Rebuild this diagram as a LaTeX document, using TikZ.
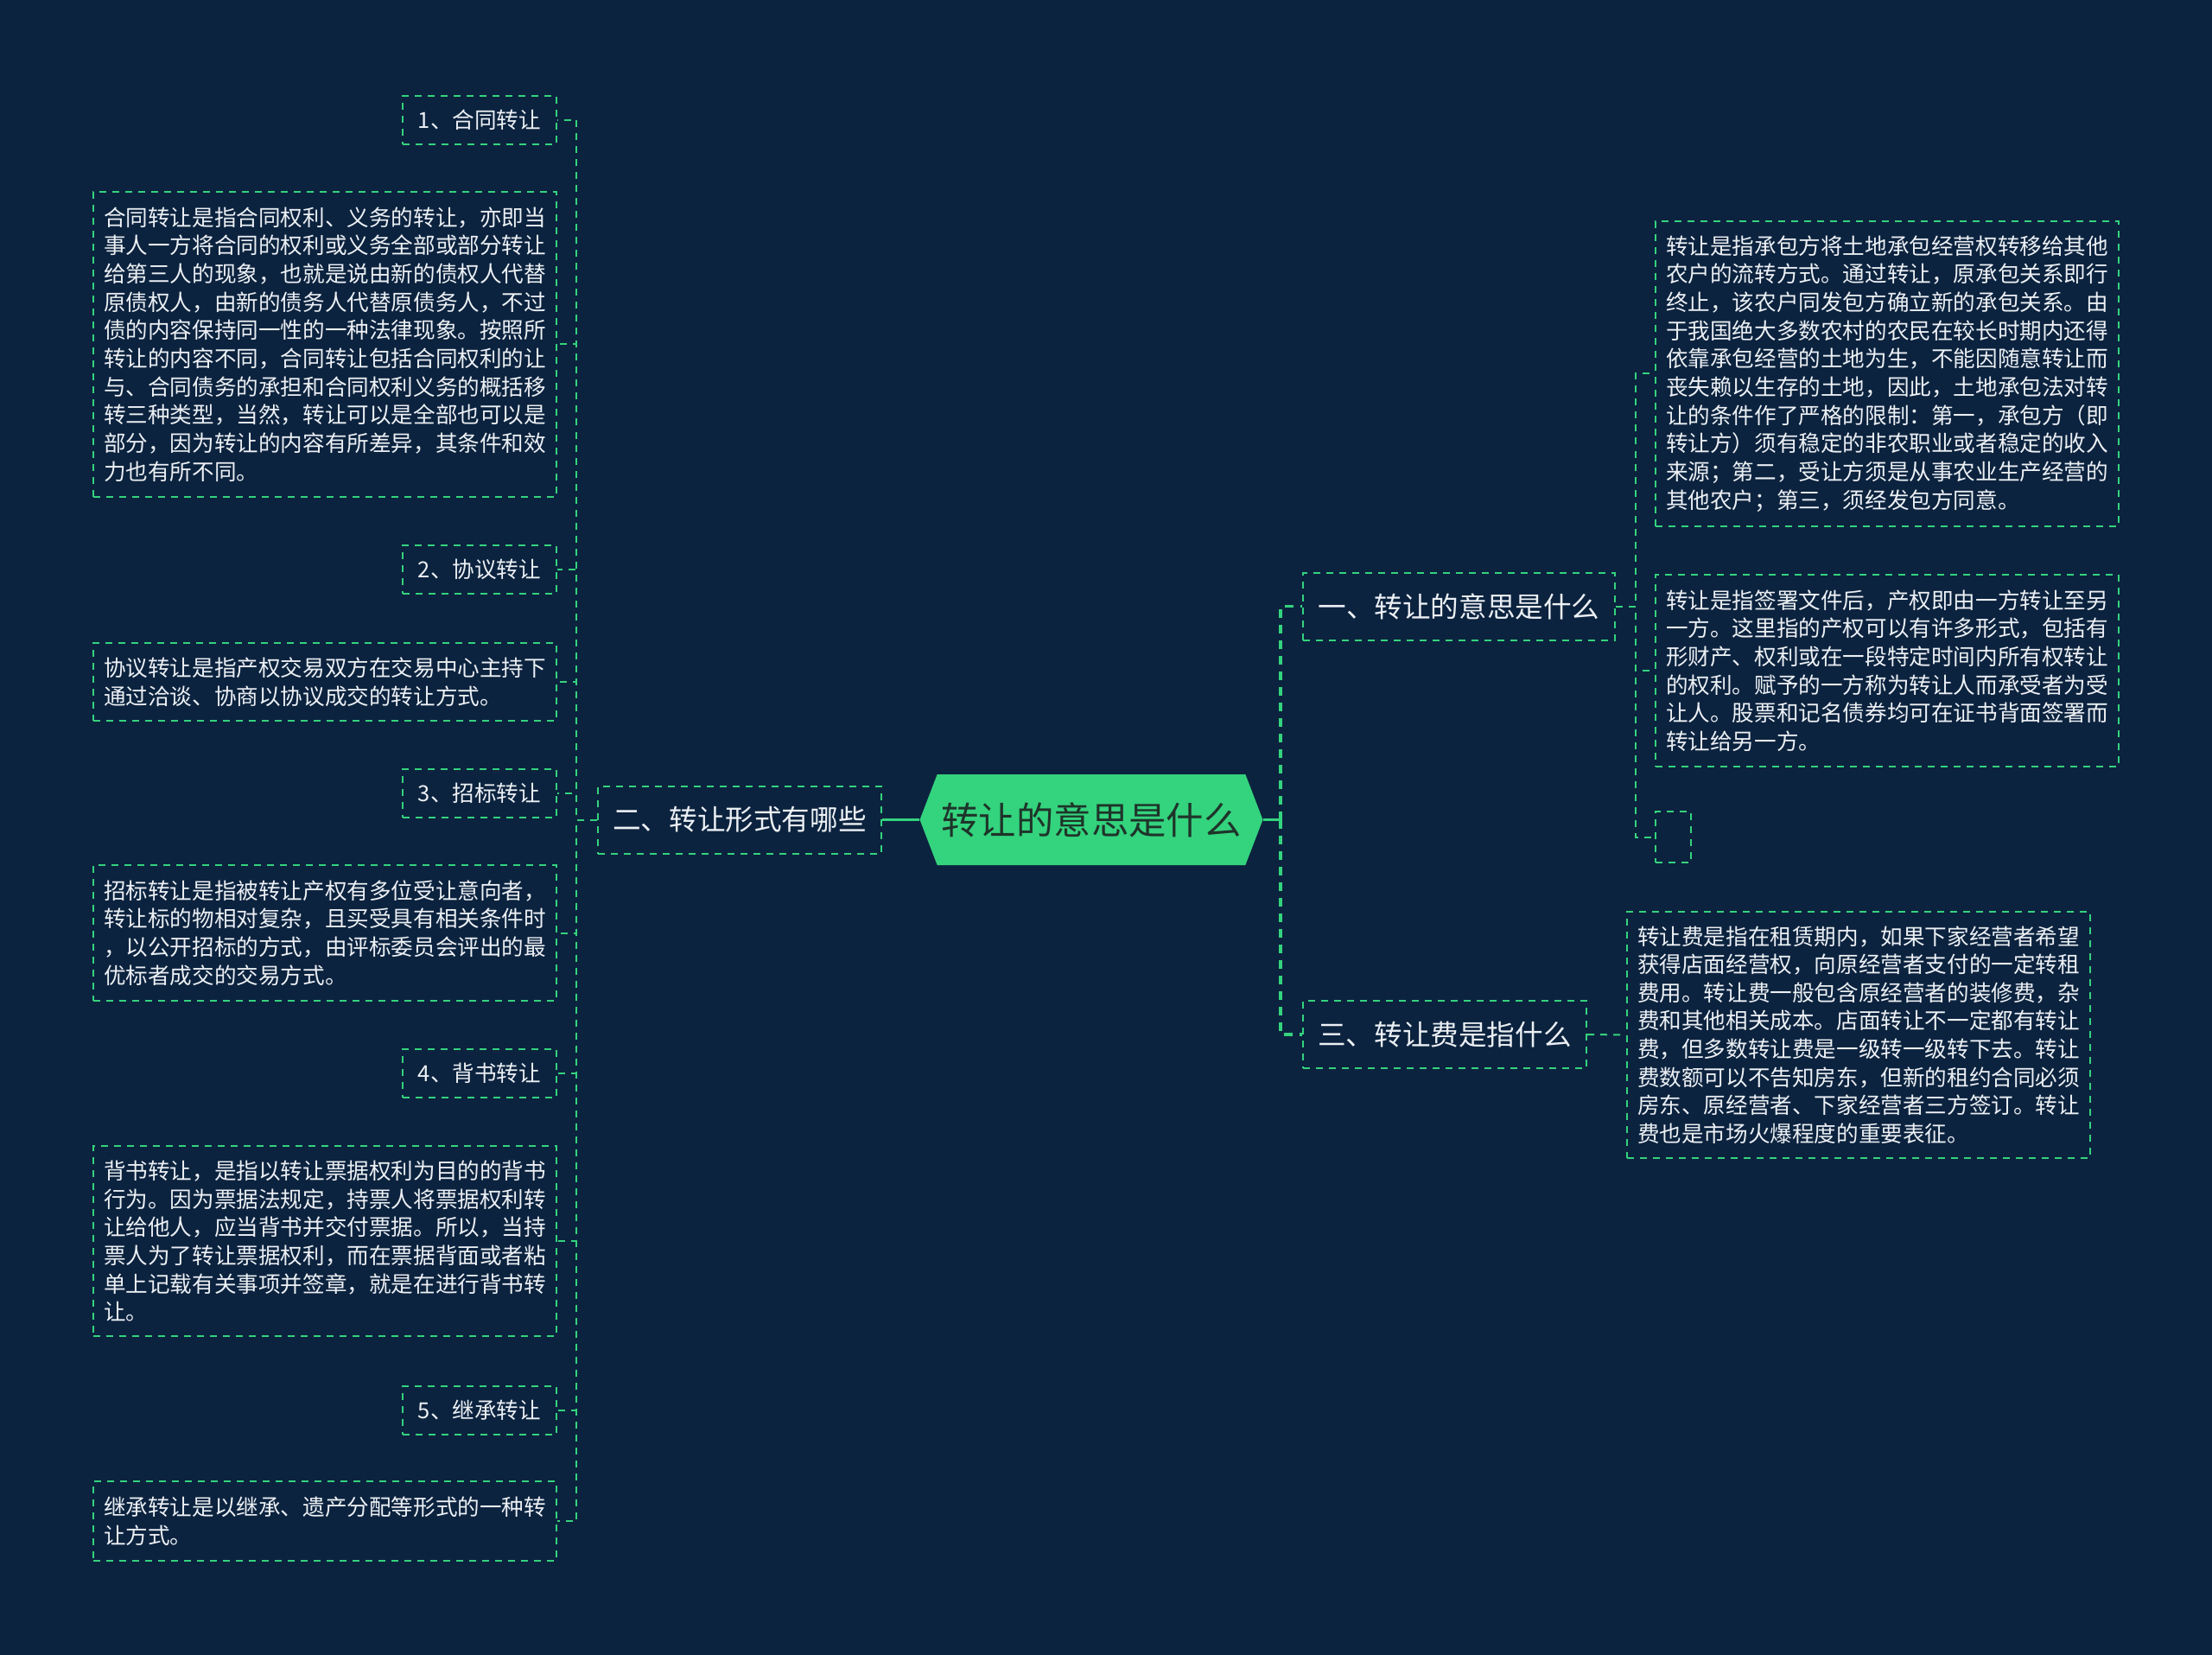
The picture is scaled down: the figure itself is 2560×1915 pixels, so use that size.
\documentclass[tikz,border=0pt]{standalone}
\usepackage{fontspec}
\setmainfont{Noto Sans CJK SC}
\usepackage{tikz}
\usetikzlibrary{shapes.symbols}
\definecolor{bgnavy}{RGB}{12,35,63}
\definecolor{mmgreen}{RGB}{52,211,125}
\definecolor{rootink}{RGB}{30,52,42}
\definecolor{paper}{RGB}{236,240,244}
\newcommand{\mmroot}{\fontsize{21.7}{26}\selectfont}
\newcommand{\mmtopic}{\fontsize{16.3}{20}\selectfont}
\newcommand{\mmnote}{\fontsize{12.8}{16.33}\selectfont}
\tikzstyle{root} = [signal, signal to=west and east, signal pointer angle=138, minimum width=198.5pt, minimum height=52.5pt, inner sep=0pt, fill=mmgreen, text=rootink, font=\mmroot]
\tikzstyle{topic} = [rectangle, draw=mmgreen, line width=1pt, dash pattern=on 4pt off 3.5pt, minimum height=39pt, text=paper, font=\mmtopic]
\tikzstyle{itembox} = [rectangle, draw=mmgreen, line width=1pt, dash pattern=on 4pt off 3.5pt, minimum width=89pt, minimum height=28pt, text=paper, font=\mmnote]
\tikzstyle{textbox} = [rectangle, draw=mmgreen, line width=1pt, dash pattern=on 4pt off 3.5pt, text width=256pt, inner xsep=6pt, align=left, text=paper, font=\mmnote]
\tikzstyle{link} = [mmgreen, line width=1pt, dash pattern=on 4pt off 3.5pt]
\tikzstyle{hublink} = [mmgreen, line width=1.6pt, dash pattern=on 5pt off 4pt]
\tikzstyle{solidlink} = [mmgreen, line width=1.6pt]

\begin{document}
\begin{tikzpicture}[x=0.5pt, y=-0.5pt]
            \fill [bgnavy] (0,0) rectangle (2560,1915);
            \useasboundingbox (0,0) rectangle (2560,1915);

            \node [root] at (1263,948.5) (root) {转让的意思是什么};
            \node [topic, minimum width=164pt] at (856,948.5) (two) {二、转让形式有哪些};
            \node [topic, minimum width=180.5pt, anchor=west] at (1507,701.5) (one) {一、转让的意思是什么};
            \node [topic, minimum width=164pt, anchor=west] at (1507,1197) (three) {三、转让费是指什么};

            \node [itembox, anchor=east] at (645,139) (l1) {1、合同转让};
            \node [textbox, anchor=east, minimum height=176.5pt] at (645,398.5) (t1) {合同转让是指合同权利、义务的转让，亦即当\\事人一方将合同的权利或义务全部或部分转让\\给第三人的现象，也就是说由新的债权人代替\\原债权人，由新的债务人代替原债务人，不过\\债的内容保持同一性的一种法律现象。按照所\\转让的内容不同，合同转让包括合同权利的让\\与、合同债务的承担和合同权利义务的概括移\\转三种类型，当然，转让可以是全部也可以是\\部分，因为转让的内容有所差异，其条件和效\\力也有所不同。};
            \node [itembox, anchor=east] at (645,658.5) (l2) {2、协议转让};
            \node [textbox, anchor=east, minimum height=45pt] at (645,789) (t2) {协议转让是指产权交易双方在交易中心主持下\\通过洽谈、协商以协议成交的转让方式。};
            \node [itembox, anchor=east] at (645,917.5) (l3) {3、招标转让};
            \node [textbox, anchor=east, minimum height=78.5pt] at (645,1079.5) (t3) {招标转让是指被转让产权有多位受让意向者，\\转让标的物相对复杂，且买受具有相关条件时\\，以公开招标的方式，由评标委员会评出的最\\优标者成交的交易方式。};
            \node [itembox, anchor=east] at (645,1241.5) (l4) {4、背书转让};
            \node [textbox, anchor=east, minimum height=110pt] at (645,1436) (t4) {背书转让，是指以转让票据权利为目的的背书\\行为。因为票据法规定，持票人将票据权利转\\让给他人，应当背书并交付票据。所以，当持\\票人为了转让票据权利，而在票据背面或者粘\\单上记载有关事项并签章，就是在进行背书转\\让。};
            \node [itembox, anchor=east] at (645,1631.5) (l5) {5、继承转让};
            \node [textbox, anchor=east, minimum height=46pt] at (645,1760) (t5) {继承转让是以继承、遗产分配等形式的一种转\\让方式。};

            \node [textbox, anchor=west, minimum height=176.5pt] at (1915,432.5) (a1) {转让是指承包方将土地承包经营权转移给其他\\农户的流转方式。通过转让，原承包关系即行\\终止，该农户同发包方确立新的承包关系。由\\于我国绝大多数农村的农民在较长时期内还得\\依靠承包经营的土地为生，不能因随意转让而\\丧失赖以生存的土地，因此，土地承包法对转\\让的条件作了严格的限制：第一，承包方（即\\转让方）须有稳定的非农职业或者稳定的收入\\来源；第二，受让方须是从事农业生产经营的\\其他农户；第三，须经发包方同意。};
            \node [textbox, anchor=west, minimum height=111pt] at (1915,776) (a2) {转让是指签署文件后，产权即由一方转让至另\\一方。这里指的产权可以有许多形式，包括有\\形财产、权利或在一段特定时间内所有权转让\\的权利。赋予的一方称为转让人而承受者为受\\让人。股票和记名债券均可在证书背面签署而\\转让给另一方。};
            \node [itembox, anchor=west, minimum width=20.5pt, minimum height=29.5pt] at (1915,968.5) (a3) {};
            \node [textbox, anchor=west, minimum height=142.5pt] at (1882,1197.5) (c1) {转让费是指在租赁期内，如果下家经营者希望\\获得店面经营权，向原经营者支付的一定转租\\费用。转让费一般包含原经营者的装修费，杂\\费和其他相关成本。店面转让不一定都有转让\\费，但多数转让费是一级转一级转下去。转让\\费数额可以不告知房东，但新的租约合同必须\\房东、原经营者、下家经营者三方签订。转让\\费也是市场火爆程度的重要表征。};

            \coordinate (rhub) at (1482,948.5);

            \draw [solidlink] (root.west) -- (two.east);
            \draw [solidlink] (root.east) -- (rhub);
            \draw [hublink] (rhub) |- (one.west);
            \draw [hublink] (rhub) |- (three.west);

            \draw [link] (two.west) -- ++(-24,0) |- (l1.east);
            \draw [link] (two.west) -- ++(-24,0) |- (t1.east);
            \draw [link] (two.west) -- ++(-24,0) |- (l2.east);
            \draw [link] (two.west) -- ++(-24,0) |- (t2.east);
            \draw [link] (two.west) -- ++(-24,0) |- (l3.east);
            \draw [link] (two.west) -- ++(-24,0) |- (t3.east);
            \draw [link] (two.west) -- ++(-24,0) |- (l4.east);
            \draw [link] (two.west) -- ++(-24,0) |- (t4.east);
            \draw [link] (two.west) -- ++(-24,0) |- (l5.east);
            \draw [link] (two.west) -- ++(-24,0) |- (t5.east);

            \draw [link] (one.east) -- ++(23,0) |- (a1.west);
            \draw [link] (one.east) -- ++(23,0) |- (a2.west);
            \draw [link] (one.east) -- ++(23,0) |- (a3.west);
            \draw [link] (three.east) -- (c1.west);
\end{tikzpicture}
\end{document}
